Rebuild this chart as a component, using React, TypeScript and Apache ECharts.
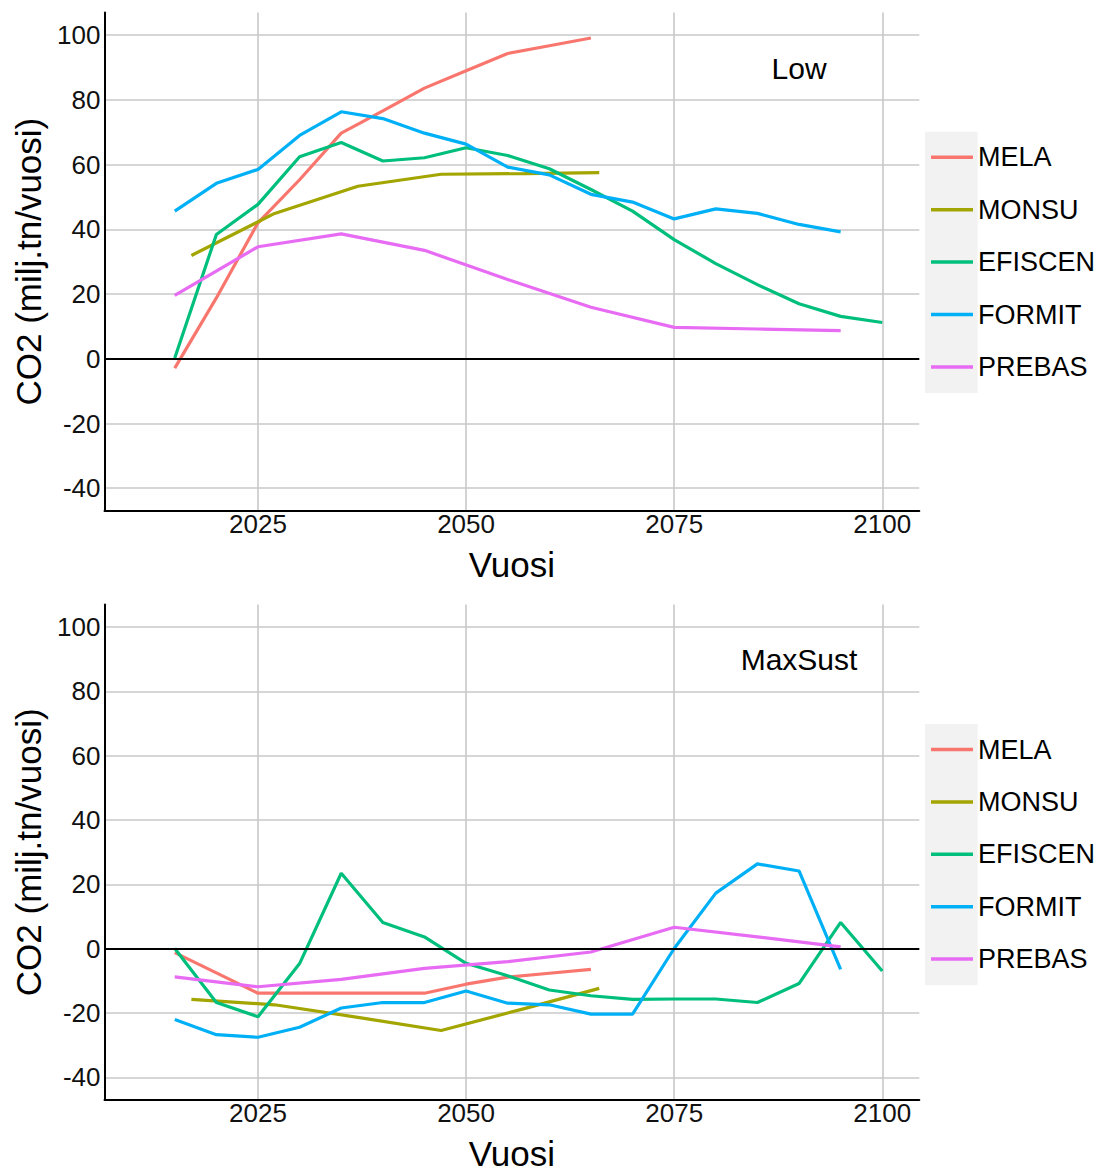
import React, { useEffect, useRef } from "react";
import * as echarts from "echarts";

// Models and their line colours
const MODELS = ["MELA", "MONSU", "EFISCEN", "FORMIT", "PREBAS"];
const COLORS = ["#F8766D", "#A3A500", "#00BF7D", "#00B0F6", "#E76BF3"];

// Scenario panels
const SCENARIOS = ["Low", "MaxSust"];

// Years per model
const YEARS_MELA = [2015, 2020, 2025, 2030, 2035, 2040, 2045, 2050, 2055, 2060, 2065];
const YEARS_MONSU = [2017, 2027, 2037, 2047, 2057, 2066];
const YEARS_EFISCEN = [2015, 2020, 2025, 2030, 2035, 2040, 2045, 2050, 2055, 2060, 2065, 2070, 2075, 2080, 2085, 2090, 2095, 2100];
const YEARS_FORMIT = [2015, 2020, 2025, 2030, 2035, 2040, 2045, 2050, 2055, 2060, 2065, 2070, 2075, 2080, 2085, 2090, 2095];
const YEARS_PREBAS = [2015, 2025, 2035, 2045, 2055, 2065, 2075, 2085, 2095];

// Scenario "Low" (milj. tn CO2 / vuosi)
const LOW_MELA = [-2.9, 18.8, 42.0, 55.3, 69.7, 76.6, 83.6, 89.0, 94.3, 96.7, 99.1];
const LOW_MONSU = [31.9, 44.9, 53.3, 57.0, 57.2, 57.5];
const LOW_EFISCEN = [0.2, 38.4, 47.7, 62.4, 66.8, 61.1, 62.1, 65.2, 62.8, 58.7, 52.3, 45.6, 36.8, 29.4, 22.9, 17.0, 13.1, 11.2];
const LOW_FORMIT = [45.6, 54.2, 58.5, 69.0, 76.3, 74.2, 69.7, 66.3, 59.2, 56.8, 50.8, 48.4, 43.2, 46.3, 44.9, 41.5, 39.2];
const LOW_PREBAS = [19.6, 34.6, 38.6, 33.5, 24.5, 15.9, 9.7, 9.2, 8.7];

// Scenario "MaxSust"
const MAX_MELA = [-1.2, -7.5, -13.8, -13.8, -13.8, -13.8, -13.8, -11.0, -8.8, -7.6, -6.4];
const MAX_MONSU = [-15.7, -17.4, -21.3, -25.4, -18.6, -12.3];
const MAX_EFISCEN = [0.1, -16.7, -21.1, -4.6, 23.5, 8.2, 3.7, -4.5, -8.4, -12.8, -14.6, -15.7, -15.6, -15.6, -16.7, -10.8, 8.2, -6.9];
const MAX_FORMIT = [-22.0, -26.7, -27.5, -24.4, -18.4, -16.7, -16.7, -13.1, -16.9, -17.4, -20.3, -20.3, 0.1, 17.3, 26.4, 24.2, -6.4];
const MAX_PREBAS = [-8.7, -11.8, -9.5, -6.1, -4.0, -1.0, 6.7, 3.7, 0.6];

// Axis ticks
const X_TICKS = [2025, 2050, 2075, 2100];
const Y_TICKS = [-40, -20, 0, 20, 40, 60, 80, 100];

const YEARS = [YEARS_MELA, YEARS_MONSU, YEARS_EFISCEN, YEARS_FORMIT, YEARS_PREBAS];
const PANEL_VALUES = [
  [LOW_MELA, LOW_MONSU, LOW_EFISCEN, LOW_FORMIT, LOW_PREBAS],
  [MAX_MELA, MAX_MONSU, MAX_EFISCEN, MAX_FORMIT, MAX_PREBAS],
];

const FONT = "'Liberation Sans', Arial, sans-serif";
const PANEL_TOP = [12.4, 604.6];
const PANEL_H = 498.5;

export default function App() {
  const ref = useRef<HTMLDivElement>(null);

  useEffect(() => {
    if (!ref.current) return;
    const chart = echarts.init(ref.current, undefined, { renderer: "svg" });

    const grids = PANEL_TOP.map((top) => ({ left: 104.5, right: 179.7, top, height: PANEL_H }));

    const xAxes = PANEL_TOP.map((_, i) => ({
      type: "value",
      gridIndex: i,
      min: 2006.56,
      max: 2104.45,
      name: "Vuosi",
      nameLocation: "middle",
      nameGap: 36,
      nameTextStyle: { fontSize: 35, color: "#000", fontFamily: FONT },
      axisLine: { show: true, onZero: false, lineStyle: { color: "#000", width: 2 } },
      axisTick: { show: false, customValues: X_TICKS },
      axisLabel: {
        customValues: X_TICKS,
        formatter: (v: number) => String(Math.round(v)),
        fontSize: 26,
        color: "#111",
        margin: 0,
        fontFamily: FONT,
      },
      splitLine: { show: true, lineStyle: { color: "#c8c8c8", width: 1.6 } },
    }));

    const yAxes = PANEL_TOP.map((_, i) => ({
      type: "value",
      gridIndex: i,
      min: -47,
      max: 107,
      name: "CO2 (milj.tn/vuosi)",
      nameLocation: "middle",
      nameRotate: 90,
      nameGap: 57,
      nameTextStyle: { fontSize: 35, color: "#000", fontFamily: FONT },
      axisLine: { show: true, onZero: false, lineStyle: { color: "#000", width: 2 } },
      axisTick: { show: false, customValues: Y_TICKS },
      axisLabel: {
        customValues: Y_TICKS,
        formatter: (v: number) => String(Math.round(v)),
        fontSize: 26,
        color: "#111",
        margin: 4,
        fontFamily: FONT,
      },
      splitLine: { show: true, lineStyle: { color: "#c8c8c8", width: 1.6 } },
    }));

    const series: any[] = [];
    PANEL_VALUES.forEach((values, p) => {
      MODELS.forEach((name, m) => {
        const s: any = {
          type: "line",
          name,
          xAxisIndex: p,
          yAxisIndex: p,
          data: YEARS[m].map((yr, k) => [yr, values[m][k]]),
          showSymbol: false,
          symbol: "none",
          lineStyle: { width: 3.2, color: COLORS[m] },
          itemStyle: { color: COLORS[m] },
          emphasis: { disabled: true },
        };
        if (m === 0) {
          s.markLine = {
            silent: true,
            symbol: "none",
            label: { show: false },
            lineStyle: { color: "#000", width: 2, type: "solid" },
            data: [{ yAxis: 0 }],
          };
          s.markPoint = {
            silent: true,
            symbol: "circle",
            symbolSize: 0,
            data: [{ coord: [2090, 89.8], value: SCENARIOS[p] }],
            label: {
              show: true,
              position: "inside",
              formatter: SCENARIOS[p],
              fontSize: 30,
              color: "#000",
              fontFamily: FONT,
            },
          };
        }
        series.push(s);
      });
    });

    const legends = PANEL_TOP.map((top) => ({
      orient: "vertical",
      left: 931,
      top: top + 129.9,
      padding: 0,
      itemWidth: 42,
      itemHeight: 3.5,
      itemGap: 22.4,
      icon: "rect",
      data: MODELS,
      selectedMode: false,
      textStyle: { fontSize: 27, lineHeight: 30, color: "#000", fontFamily: FONT },
    }));

    chart.setOption({
      animation: false,
      textStyle: { fontFamily: FONT },
      grid: grids,
      xAxis: xAxes,
      yAxis: yAxes,
      legend: legends,
      graphic: PANEL_TOP.map((top) => ({
        type: "rect",
        z: -10,
        silent: true,
        shape: { x: 925, y: top + 119.3, width: 52.7, height: 261.3 },
        style: { fill: "#f2f2f2" },
      })),
      series,
    });

    return () => chart.dispose();
  }, []);

  return (
    <div
      ref={ref}
      style={{ position: "absolute", left: 0, top: 0, width: 1099, height: 1172, background: "#fff" }}
    />
  );
}
